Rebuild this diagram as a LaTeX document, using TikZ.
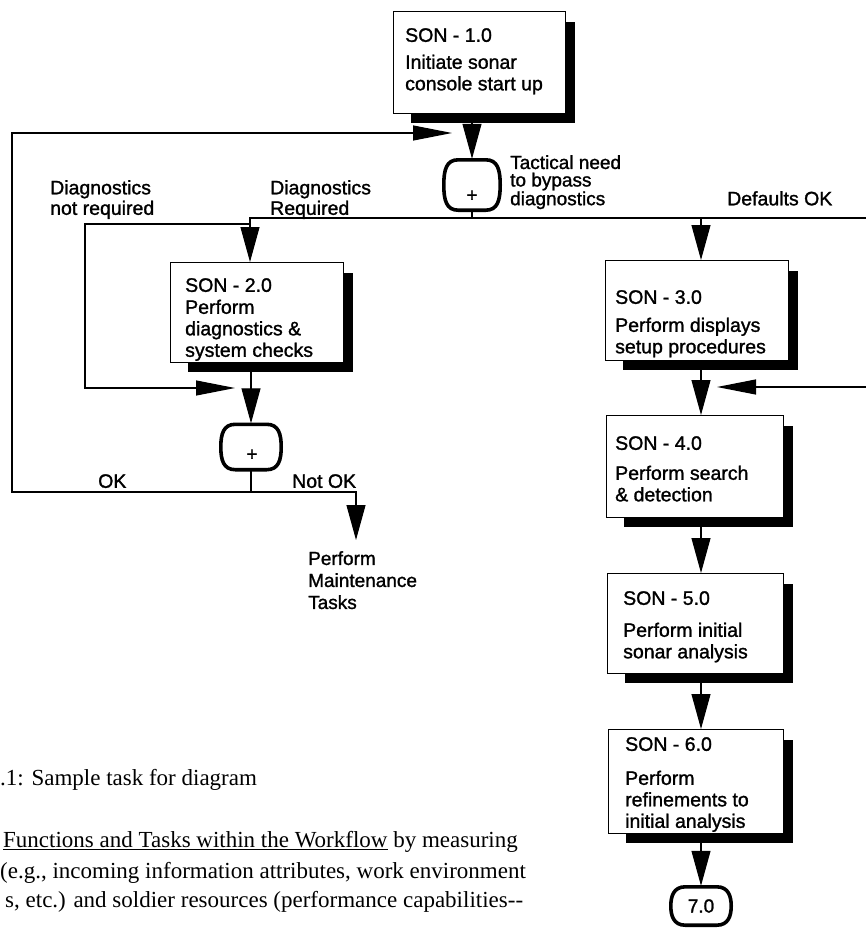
\documentclass[tikz,border=0pt]{standalone}
\usepackage{fontspec}
\setmainfont{Liberation Serif}
\newfontfamily\diagfont{Liberation Sans}[FakeBold=1.3]
\usetikzlibrary{arrows.meta,calc}

\begin{document}
\begin{tikzpicture}[x=1pt,y=-1pt,
  taskbox/.style={draw, line width=0.9pt, fill=white, anchor=north west, inner sep=0pt},
  tasktext/.style={anchor=north west, inner sep=0pt, align=left,
    font=\diagfont\fontsize{19.5}{21.5}\selectfont},
  lbl/.style={anchor=north west, inner sep=0pt, align=left,
    font=\diagfont\fontsize{19.5}{20.5}\selectfont},
  gate/.style={inner sep=0pt},
  gateline/.style={line width=3.6pt},
  gatemark/.style={inner sep=0pt, font=\diagfont\fontsize{19}{19}\selectfont},
  link/.style={line width=1.1pt},
  arr/.style={link, -{Triangle[length=35pt,width=19pt]}},
  arrh/.style={link, -{Triangle[length=39pt,width=15pt]}},
  body/.style={anchor=base west, inner sep=0pt, font=\fontsize{23}{27}\selectfont},
]
\useasboundingbox (0,0) rectangle (866,929);
\clip (0,0) rectangle (866,929);

% task boxes
\node[taskbox, minimum width=172pt, minimum height=102pt] (s1) at (393,11) {};
\node[taskbox, minimum width=173pt, minimum height=100pt] (s2) at (170,262) {};
\node[taskbox, minimum width=183pt, minimum height=100pt] (s3) at (605,260) {};
\node[taskbox, minimum width=177pt, minimum height=102pt] (s4) at (606,415) {};
\node[taskbox, minimum width=176pt, minimum height=100pt] (s5) at (607,573) {};
\node[taskbox, minimum width=175pt, minimum height=104pt] (s6) at (608,729) {};

% heavy drop shadows on the right and bottom edges
\foreach \b in {s1,s2,s3,s4,s5,s6}{
  \fill ($(\b.north east)+(0,11)$) rectangle ($(\b.south east)+(9,9)$);
  \fill ($(\b.south west)+(18,0)$) rectangle ($(\b.south east)+(9,9)$);
}

% box texts
\node[tasktext] (s1t) at (405,28) {SON - 1.0\\[5.5pt]Initiate sonar\\console start up};
\node[tasktext] (s2t) at (185,278) {SON - 2.0\\[0.5pt]Perform\\diagnostics \&\\system checks};
\node[tasktext] (s3t) at (615,290) {SON - 3.0\\[6.5pt]Perform displays\\setup procedures};
\node[tasktext] (s4t) at (615,436) {SON - 4.0\\[8.5pt]Perform search\\\& detection};
\node[tasktext] (s5t) at (623,591) {SON - 5.0\\[10.5pt]Perform initial\\sonar analysis};
\node[tasktext] (s6t) at (625,737) {SON - 6.0\\[12.5pt]Perform\\refinements to\\initial analysis};

% junction gates (barrel outline drawn below)
\node[gate, minimum width=51pt, minimum height=50pt] (m1) at (472,185) {};
\node[gatemark] (m1p) at (472,196) {+};
\node[gate, minimum width=55pt, minimum height=45pt] (m2) at (251,447) {};
\node[gatemark] (m2p) at (252,455) {+};
\node[gate, minimum width=55pt, minimum height=38pt, font=\diagfont\fontsize{19}{19}\selectfont] (n7) at (701,906) {7.0};
\foreach \g in {m1,m2,n7}{
  \draw[gateline] let \p1=(\g.north west), \p2=(\g.south east) in
    (\x1+12pt,\y1) -- (\x2-12pt,\y1)
    .. controls (\x2,\y1) and (\x2+2.5pt,\y1-10pt) .. (\x2+2.5pt,{(\y1+\y2)/2})
    .. controls (\x2+2.5pt,\y2+10pt) and (\x2,\y2) .. (\x2-12pt,\y2)
    -- (\x1+12pt,\y2)
    .. controls (\x1,\y2) and (\x1-2.5pt,\y2+10pt) .. (\x1-2.5pt,{(\y1+\y2)/2})
    .. controls (\x1-2.5pt,\y1-10pt) and (\x1,\y1) .. cycle;
}

% branch labels
\node[lbl] (dnr) at (50,180) {Diagnostics\\not required};
\node[lbl] (dr) at (270,180) {Diagnostics\\Required};
\node[lbl, font=\diagfont\fontsize{19}{17.5}\selectfont] (tn) at (510,155) {Tactical need\\to bypass\\diagnostics};
\node[lbl] (dok) at (727,191) {Defaults OK};
\node[lbl] (ok) at (98,474) {OK};
\node[lbl] (nok) at (292,474) {Not OK};
\node[lbl, font=\diagfont\fontsize{19}{22}\selectfont] (mt) at (308,551) {Perform\\Maintenance\\Tasks};

% free ends and corners of the connectors
\coordinate (split) at (472,218);
\coordinate (c2) at (250,218);
\coordinate (c3) at (701,218);
\coordinate (nrs) at (250,224);
\coordinate (nre) at (235,388);
\coordinate (okj) at (251,492);
\coordinate (nokj) at (356,492);
\coordinate (mtin) at (356,540);
\coordinate (loopend) at (452,133);
\coordinate (rin) at (717,387);

% connectors
\draw[arr] (s1.south -| m1) -- ($(m1.north)+(0,-1)$);
\draw[link] (m1.south) -- (split);
\draw[arr] (split) -- (c2) -- (c2 |- s2.north);
\draw[arr] (split) -- (c3) -- (c3 |- s3.north);
\draw[arrh] (nrs) -- (85,224) |- (nre);
\draw[arr] (s2.south -| m2) -- ($(m2.north)+(0,-1)$);
\draw[link] (m2.south) -- (okj);
\draw[arrh] (okj) -- (12,492) -- (12,133) -- (loopend);
\draw[arr] (okj) -- (nokj) -- (mtin);
\draw[arrh] (c3) -- (890,218) -- (890,387) -- (rin);
\draw[arr] (s3.south -| n7) -- (s4.north -| n7);
\draw[arr] (s4.south -| n7) -- (s5.north -| n7);
\draw[arr] (s5.south -| n7) -- (s6.north -| n7);
\draw[arr] (s6.south -| n7) -- ($(n7.north)+(0,-1)$);

% caption and running text
\node[body] (cap) at (0,785) {.1: Sample task for diagram};
\node[body] (p1) at (3,847) {\underline{Functions and Tasks within the Workflow} by measuring};
\node[body] (p2) at (0,878) {(e.g., incoming information attributes, work environment};
\node[body] (p3) at (5,907) {s, etc.) and soldier resources (performance capabilities-{}-};
\end{tikzpicture}
\end{document}
